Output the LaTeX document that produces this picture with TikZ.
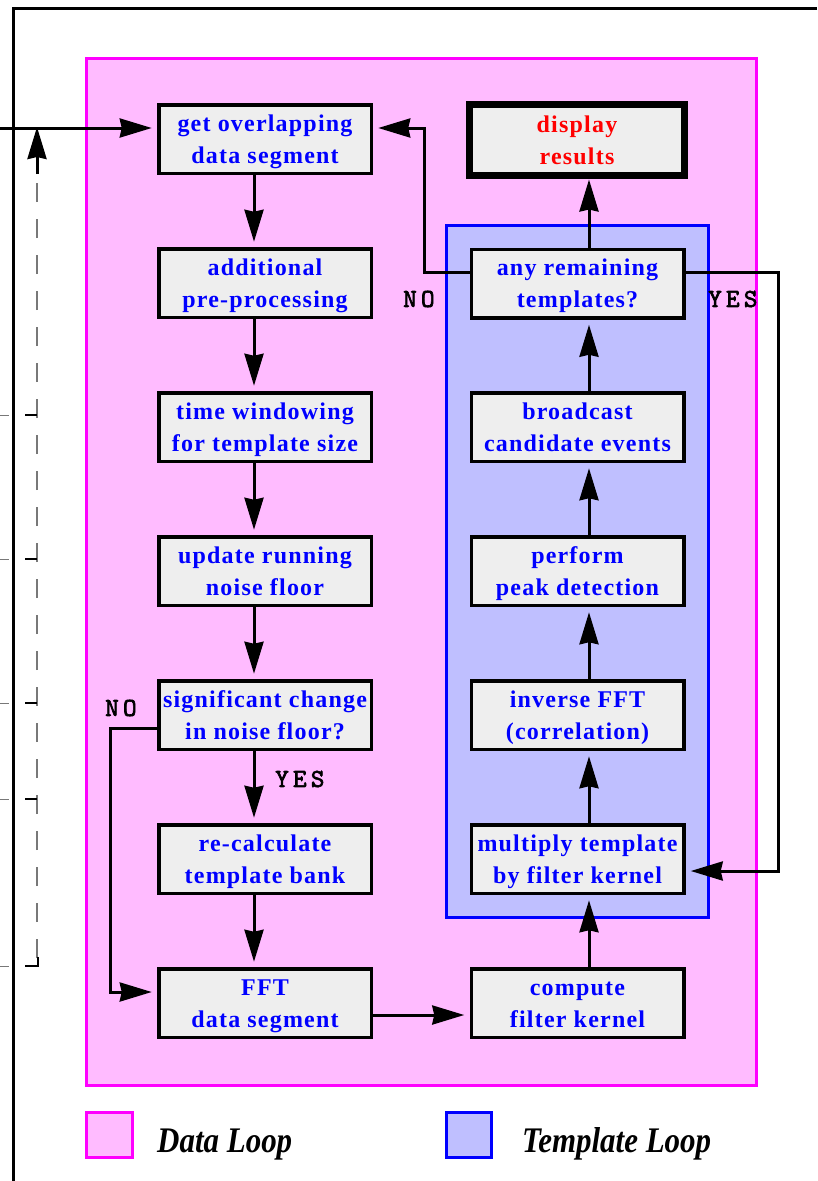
\documentclass[tikz,border=0pt]{standalone}
\usepackage{fontspec}
\usepackage{graphicx}
\setmainfont{Liberation Serif}
\newfontfamily\boxfont[LetterSpace=5]{Liberation Serif}
\newfontfamily\labfont{lmmono10-regular}[Extension=.otf,LetterSpace=16,FakeBold=2.5]
\usetikzlibrary{arrows.meta}
\definecolor{pinkfill}{RGB}{255,187,255}
\definecolor{pinkline}{RGB}{255,0,255}
\definecolor{bluefill}{RGB}{191,191,255}
\definecolor{blueline}{RGB}{0,0,255}
\definecolor{boxtext}{RGB}{0,0,255}
\definecolor{redtext}{RGB}{255,0,0}
\definecolor{boxgray}{RGB}{238,238,238}
\definecolor{dashgray}{RGB}{120,120,120}
% two-line step label with fixed top and bottom struts
\newcommand\steptext[2]{\rule{0pt}{22pt}#1\\#2\rule[-6pt]{0pt}{6pt}}

\begin{document}
\begin{tikzpicture}[x=1pt,y=-1pt,
  stepbox/.style={draw=black,line width=3.5pt,fill=boxgray,minimum width=212.5pt,
    minimum height=68.5pt,inner sep=0pt,outer sep=0pt,align=center,text=boxtext,
    font=\boxfont\bfseries\fontsize{24}{32}\selectfont},
  flow/.style={line width=3pt,-{Stealth[length=32pt,width=19pt,inset=2pt]},shorten >=7pt},
  answer/.style={anchor=west,font=\labfont\fontsize{26}{26}\selectfont,text=black,inner sep=0pt},
  legendtext/.style={anchor=base west,inner sep=0pt,font=\bfseries\itshape\fontsize{36}{36}\selectfont},
  tick/.style={line width=2.5pt},
  faint/.style={dashgray,line width=1pt}]

\useasboundingbox (0,0) rectangle (817,1181);

% outer frame
\draw[line width=3pt] (13,1181) -- (13,8) -- (817,8);

% loop regions
\draw[draw=pinkline,fill=pinkfill,line width=3pt] (86.5,58.5) rectangle (756.5,1085.5);
\draw[draw=blueline,fill=bluefill,line width=3pt] (446.5,225.5) rectangle (708.5,917.5);

% return path on the left
\draw[dashgray,line width=1.5pt,dash pattern=on 19pt off 17pt] (37,958) -- (37,176);
\coordinate (retbot) at (37,174);
\coordinate (rettop) at (37,127);
\draw[line width=3pt,-{Stealth[length=32pt,width=19pt,inset=2pt]}] (retbot) -- (rettop);
\foreach \yy in {415,559,703,799}{
  \draw[tick] (25,\yy) -- (37,\yy);
  \draw[faint] (0,\yy) -- (9,\yy);
}
\draw[tick] (25,966) -- (38,966) -- (38,957);
\draw[faint] (0,966) -- (9,966);

% data loop steps
\node[stepbox] (L1) at (265,139)  {\steptext{get overlapping}{data segment}};
\node[stepbox] (L2) at (265,283)  {\steptext{additional}{pre-processing}};
\node[stepbox] (L3) at (265,427)  {\steptext{time windowing}{for template size}};
\node[stepbox] (L4) at (265,571)  {\steptext{update running}{noise floor}};
\node[stepbox] (L5) at (265,715)  {\steptext{significant change}{in noise floor?}};
\node[stepbox] (L6) at (265,859)  {\steptext{re-calculate}{template bank}};
\node[stepbox] (L7) at (265,1003) {\steptext{FFT}{data segment}};

% template loop steps
\node[stepbox,line width=7pt,minimum width=215pt,minimum height=71pt,text=redtext] (R1) at (577,140) {\steptext{display}{results}};
\node[stepbox] (R2) at (577.5,283.5) {\steptext{any remaining}{templates?}};
\node[stepbox] (R3) at (577.5,427)   {\steptext{broadcast}{candidate events}};
\node[stepbox] (R4) at (577.5,571)   {\steptext{perform}{peak detection}};
\node[stepbox] (R5) at (577.5,715)   {\steptext{inverse FFT}{(correlation)}};
\node[stepbox] (R6) at (577.5,859)   {\steptext{multiply template}{by filter kernel}};
\node[stepbox] (R7) at (577.5,1003)  {\steptext{compute}{filter kernel}};

% incoming data
\coordinate (feed) at (0,128);
\draw[flow] (feed) -- (feed -| L1.west);

% data loop flow
\foreach \a/\b in {L1/L2,L2/L3,L3/L4,L4/L5,L5/L6,L6/L7}
  \draw[flow] ([xshift=-11pt]\a.south) -- ([xshift=-11pt]\b.north);
\draw[flow] ([yshift=-13pt]L5.west) -- ++(-48,0) |- ([yshift=11pt]L7.west);
\draw[flow] ([yshift=-12pt]L7.east) -- ([yshift=-12pt]R7.west);

% template loop flow
\foreach \a/\b in {R7/R6,R6/R5,R5/R4,R4/R3,R3/R2}
  \draw[flow] ([xshift=11.5pt]\a.north) -- ([xshift=11.5pt]\b.south);
\draw[flow,shorten >=4pt] ([xshift=11.5pt]R2.north) -- ([xshift=11.5pt]R2.north |- R1.south);
\draw[flow] ([yshift=11.5pt]R2.west) -- ++(-47,0) |- ([yshift=11pt]L1.east);
\draw[flow] ([yshift=11.5pt]R2.east) -- ++(95,0) |- ([yshift=-12pt]R6.east);

% branch labels
\node[answer] (noA)  at (105,708) {NO};
\node[answer] (yesA) at (275,779) {YES};
\node[answer] (noB)  at (403,299) {NO};
\node[answer] (yesB) at (708,299) {YES};

% legend
\draw[draw=pinkline,fill=pinkfill,line width=3pt] (86.5,1112.5) rectangle (132.5,1157.5);
\draw[draw=blueline,fill=bluefill,line width=3pt] (446.5,1112.5) rectangle (491.5,1157.5);
\node[legendtext] (legD) at (157,1152) {\scalebox{0.86}[1]{Data Loop}};
\node[legendtext] (legT) at (522,1152) {\scalebox{0.86}[1]{Template Loop}};
\end{tikzpicture}
\end{document}
